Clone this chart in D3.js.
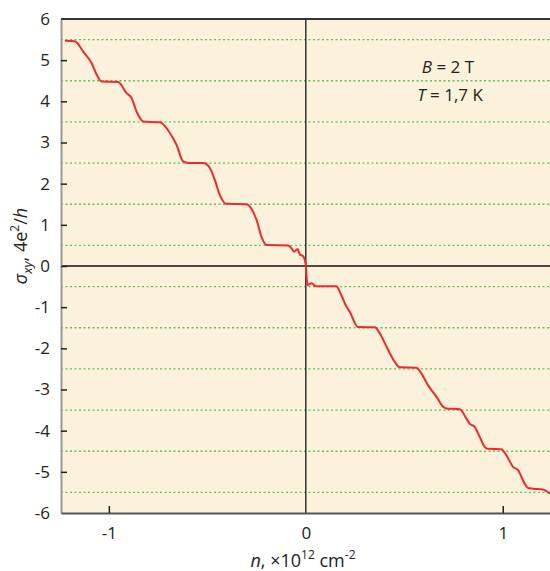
<!DOCTYPE html>
<html>
<head>
<meta charset="utf-8">
<script src="https://cdn.jsdelivr.net/npm/d3@7"></script>
<style>
  body { margin: 0; background: #fff; }
  text { font-family: "Open Sans", "Noto Sans", sans-serif; fill: #222; }
</style>
</head>
<body>
<div id="chart"></div>
<script>
// Data
const nValues = [-1.223, -1.173, -1.130, -1.088, -1.062, -1.037, -0.953, -0.910, -0.885, -0.859,
  -0.826, -0.741, -0.690, -0.656, -0.623, -0.597, -0.521, -0.487, -0.462, -0.437,
  -0.403, -0.301, -0.268, -0.250, -0.225, -0.199, -0.090, -0.073, -0.059, -0.042,
  -0.030, -0.014, 0.000, 0.004, 0.009, 0.029, 0.051, 0.156, 0.173, 0.207,
  0.223, 0.265, 0.350, 0.376, 0.410, 0.452, 0.477, 0.562, 0.587, 0.621,
  0.664, 0.697, 0.714, 0.782, 0.816, 0.832, 0.858, 0.883, 0.909, 0.925,
  0.993, 1.019, 1.052, 1.078, 1.103, 1.128, 1.154, 1.204, 1.239];
const sigmaValues = [5.47, 5.46, 5.21, 4.93, 4.65, 4.48, 4.47, 4.20, 4.08, 3.75,
  3.51, 3.49, 3.23, 2.94, 2.54, 2.50, 2.50, 2.38, 2.09, 1.73,
  1.51, 1.50, 1.32, 1.12, 0.71, 0.51, 0.50, 0.43, 0.35, 0.41,
  0.28, 0.24, 0.02, -0.26, -0.46, -0.42, -0.49, -0.49, -0.63, -0.99,
  -1.11, -1.48, -1.49, -1.64, -1.96, -2.33, -2.46, -2.47, -2.61, -2.90,
  -3.18, -3.42, -3.46, -3.48, -3.71, -3.83, -3.91, -4.15, -4.40, -4.44,
  -4.45, -4.60, -4.88, -4.96, -5.21, -5.39, -5.41, -5.43, -5.53];
const xTicks = [-1, 0, 1];
const yTicks = [-6, -5, -4, -3, -2, -1, 0, 1, 2, 3, 4, 5, 6];
const plateaus = [-5.5, -4.5, -3.5, -2.5, -1.5, -0.5, 0.5, 1.5, 2.5, 3.5, 4.5, 5.5];

const data = nValues.map((n, i) => ({n: n, s: sigmaValues[i]}));

const W = 550, H = 571;
const margin = {top: 19, right: 0, bottom: 58, left: 61};
const width = W - margin.left - margin.right,
      height = H - margin.top - margin.bottom;

const svg = d3.select("#chart").append("svg")
  .attr("width", W).attr("height", H);

const g = svg.append("g")
  .attr("transform", `translate(${margin.left},${margin.top})`);

const x = d3.scaleLinear().domain([-1.243, 1.24]).range([0, width]);
const y = d3.scaleLinear().domain([-6, 6]).range([height, 0]);

// background
g.append("rect")
  .attr("width", width).attr("height", height)
  .attr("fill", "#fcf1da");

// dotted plateau lines
g.selectAll(".plateau")
  .data(plateaus)
  .enter().append("line")
  .attr("x1", 0).attr("x2", width)
  .attr("y1", d => y(d)).attr("y2", d => y(d))
  .attr("stroke", "#5cbf5c")
  .attr("stroke-width", 1.3)
  .attr("stroke-dasharray", "2,2.5");

// zero lines
g.append("line")
  .attr("x1", 0).attr("x2", width)
  .attr("y1", y(0)).attr("y2", y(0))
  .attr("stroke", "#111").attr("stroke-width", 1.3);
g.append("line")
  .attr("x1", x(0)).attr("x2", x(0))
  .attr("y1", 0).attr("y2", height)
  .attr("stroke", "#333").attr("stroke-width", 1.5);

// clip
g.append("clipPath").attr("id", "clip")
  .append("rect").attr("width", width).attr("height", height);

const line = d3.line()
  .x(d => x(d.n))
  .y(d => y(d.s))
  .curve(d3.curveMonotoneX);

g.append("path")
  .datum(data)
  .attr("clip-path", "url(#clip)")
  .attr("fill", "none")
  .attr("stroke", "#ee2a30")
  .attr("stroke-width", 2)
  .attr("stroke-linejoin", "round")
  .attr("d", line);

// axes (plain hyphen for negatives, as in the original)
const fmt = d => String(d);

const yAxis = g.append("g")
  .call(d3.axisLeft(y).tickValues(yTicks).tickFormat(fmt)
    .tickSizeInner(-6).tickSizeOuter(0).tickPadding(11));
yAxis.select(".domain").attr("stroke", "#999").attr("stroke-width", 2);
yAxis.selectAll(".tick line").attr("stroke", "#222").attr("stroke-width", 1.5);
yAxis.selectAll(".tick text").style("font-size", "17px").attr("fill", "#222");
yAxis.selectAll(".tick").filter(d => d === 6 || d === -6).select("line").remove();

const xAxis = g.append("g")
  .attr("transform", `translate(0,${height})`)
  .call(d3.axisBottom(x).tickValues(xTicks).tickFormat(fmt)
    .tickSizeInner(-7).tickSizeOuter(0).tickPadding(14));
xAxis.select(".domain").attr("stroke", "#555").attr("stroke-width", 2);
xAxis.selectAll(".tick line").attr("stroke", "#222").attr("stroke-width", 1.5);
xAxis.selectAll(".tick").filter(d => d === 0).select("line").remove();
xAxis.selectAll(".tick text").style("font-size", "17px").attr("fill", "#222");

// top border
g.append("line")
  .attr("x1", 0).attr("x2", width)
  .attr("y1", 0).attr("y2", 0)
  .attr("stroke", "#333").attr("stroke-width", 2);

// annotation
const ann = g.append("text")
  .attr("text-anchor", "middle")
  .style("font-size", "17px");
ann.append("tspan").attr("x", 387).attr("y", 54)
  .html('<tspan font-style="italic">B</tspan> = 2 T');
ann.append("tspan").attr("x", 389).attr("y", 82)
  .html('<tspan font-style="italic">T</tspan> = 1,7 K');

// x label
svg.append("text")
  .attr("x", 303).attr("y", 567)
  .attr("text-anchor", "middle")
  .style("font-size", "18px")
  .html('<tspan font-style="italic">n</tspan>, ×10<tspan dy="-8" font-size="12px">12</tspan><tspan dy="8"> cm</tspan><tspan dy="-8" font-size="12px">-2</tspan>');

// y label
svg.append("text")
  .attr("transform", "translate(27,246) rotate(-90)")
  .attr("text-anchor", "middle")
  .style("font-size", "18px")
  .html('<tspan font-style="italic">σ</tspan><tspan dy="5" font-size="13px" font-style="italic">xy</tspan><tspan dy="-5">, 4e</tspan><tspan dy="-8" font-size="12px">2</tspan><tspan dy="8">/</tspan><tspan font-style="italic">h</tspan>');
</script>
</body>
</html>
